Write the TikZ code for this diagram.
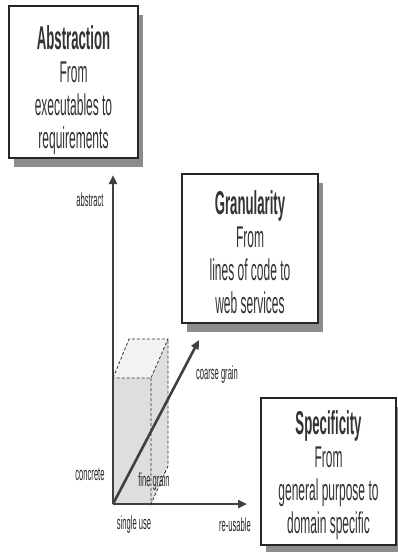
\documentclass[tikz,border=0pt]{standalone}
\usepackage{fontspec}
\setmainfont{Liberation Sans}[FakeStretch=0.4]
\usetikzlibrary{positioning,shadows,arrows.meta}
% heading line of a panel, the optional strut moves the text down
\newcommand{\panelhead}[2][24pt]{\rule{0pt}{#1}{\fontsize{33}{33}\selectfont\bfseries #2}}

\begin{document}
\begin{tikzpicture}[x=1pt,y=-1pt,
	panel/.style={draw=black!85,line width=1.2pt,fill=white,align=center,
		font=\fontsize{30}{33}\selectfont,text=black!80,
		drop shadow={shadow xshift=5pt,shadow yshift=-9pt,fill=black!45,opacity=1}},
	axis/.style={line width=2.6pt,black!75,-{Triangle[length=9pt,width=8pt]}},
	lbl/.style={font=\fontsize{19}{20}\selectfont,text=black!85},
	cube/.style={densely dashed,line width=0.8pt,black!80}]
	\useasboundingbox (0,0) rectangle (398,552);
	% the three panels
	\node[panel,minimum width=129pt,minimum height=150pt] (abs) at (73.5,82)
		{\panelhead[40pt]{Abstraction}\\From\\executables to\\requirements};
	\node[panel,minimum width=136pt,minimum height=149pt] (gran) at (250,248.5)
		{\panelhead[32pt]{Granularity}\\From\\lines of code to\\web services};
	\node[panel,minimum width=135pt,minimum height=147pt] (spec) at (328.5,471.5)
		{\panelhead[32pt]{Specificity}\\From\\general purpose to\\domain specific};
	% axes
	\coordinate (o) at (113,504);
	\coordinate (top) at (113,175);
	\coordinate (right) at (247,504);
	\coordinate (diag) at (199,340);
	% cube
	\coordinate (f1) at (113,378);
	\coordinate (f2) at (151,378);
	\coordinate (f3) at (151,504);
	\coordinate (b1) at (129,339);
	\coordinate (b2) at (168,339);
	\coordinate (b3) at (168,466);
	\fill[black!13] (o) -- (f1) -- (f2) -- (b2) -- (b3) -- (f3) -- cycle;
	\fill[black!5] (f1) -- (b1) -- (b2) -- (f2) -- cycle;
	\path (o) edge[axis] (top)
		(o) edge[axis] (right)
		(o) edge[axis] (diag);
	\draw[cube] (f1) -- (b1) -- (b2) -- (f2) -- cycle
		(f2) -- (f3) -- (b3) -- (b2);
	% labels
	\node[lbl] (abstract) at (90,200) {abstract};
	\node[lbl] (concrete) at (90,474) {concrete};
	\node[lbl] (single) at (134,525) {single use};
	\node[lbl] (reusable) at (235,525) {re-usable};
	\node[lbl] (coarse) at (217,375) {coarse grain};
	\node[lbl] (fine) at (154,482) {fine grain};
\end{tikzpicture}
\end{document}
